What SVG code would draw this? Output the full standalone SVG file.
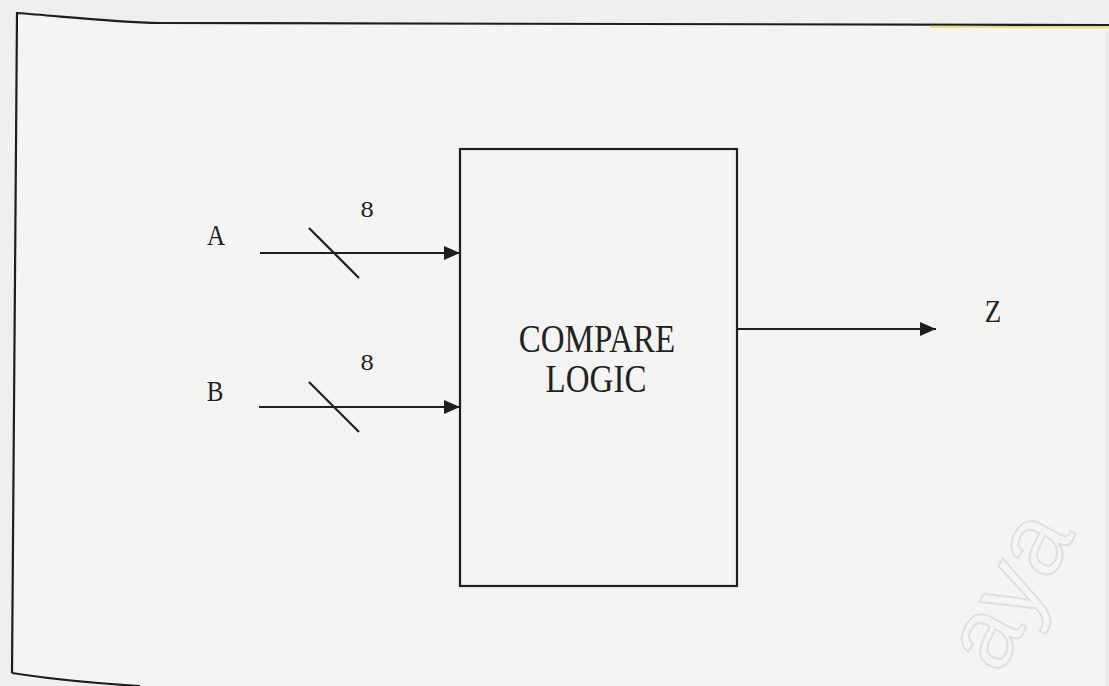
<svg xmlns="http://www.w3.org/2000/svg" width="1109" height="686" viewBox="0 0 1109 686">
  <defs>
    <marker id="arrow" viewBox="0 0 16 14" refX="16" refY="7" markerWidth="16" markerHeight="14" markerUnits="userSpaceOnUse" orient="auto">
      <path d="M0,0 L16,7 L0,14 Z" fill="#1b1f1f"/>
    </marker>
    <style>
      .ln { stroke: #1b1f1f; stroke-width: 2.2; fill: none; }
      .lbl { font-family: "Liberation Serif", "Times New Roman", serif; fill: #1f2222; }
      .wm { font-family: "Liberation Sans", Arial, sans-serif; font-size: 100px; fill: none; stroke: #dedede; stroke-width: 2; }
    </style>
  </defs>

  <!-- page background -->
  <rect x="0" y="0" width="1109" height="686" fill="#efefed"/>
  <path d="M17,13 C60,16 110,22 160,23 L1109,25 L1109,686 L130,686 C80,682 40,678 12,673 Z" fill="#f4f4f2"/>

  <!-- outer frame -->
  <g id="frame">
    <path class="ln" d="M12,673 L17,13 C60,16 110,22 160,23 L1109,25" stroke-width="2.6"/>
    <path class="ln" d="M12,673 C50,679 90,683 140,686" stroke-width="2.6"/>
    <line x1="930" y1="26.8" x2="1109" y2="27.2" stroke="#e4e070" stroke-width="2"/>
    <line x1="1107" y1="30" x2="1107" y2="686" stroke="#d8d8d8" stroke-width="1"/>
  </g>

  <!-- faint watermark -->
  <text class="wm" transform="translate(1000,676) rotate(-62)">aya</text>

  <!-- compare logic block -->
  <g id="compare-logic">
    <rect class="ln" x="460" y="149" width="277" height="437" fill="#f6f6f4"/>
    <text class="lbl" text-anchor="middle" font-size="33" transform="translate(597,352) scale(1,1.2)">COMPARE</text>
    <text class="lbl" text-anchor="middle" font-size="33" transform="translate(596,392) scale(1,1.2)">LOGIC</text>
  </g>

  <!-- port labels -->
  <g id="input-a">
    <text class="lbl" text-anchor="middle" font-size="25" transform="translate(216,245) scale(1,1.2)">A</text>
  </g>
  <g id="input-b">
    <text class="lbl" text-anchor="middle" font-size="25" transform="translate(215,401) scale(1,1.2)">B</text>
  </g>
  <g id="output-z">
    <text class="lbl" text-anchor="middle" font-size="27" transform="translate(993,322) scale(1,1.2)">Z</text>
  </g>

  <!-- connectors with bus-width marks -->
  <g id="connectors">
    <line class="ln" x1="260" y1="253" x2="460" y2="253" marker-end="url(#arrow)"/>
    <line class="ln" x1="309" y1="228" x2="359" y2="278"/>
    <text class="lbl" text-anchor="middle" font-size="23" transform="translate(367,217) scale(1.15,1)">8</text>

    <line class="ln" x1="259" y1="407" x2="460" y2="407" marker-end="url(#arrow)"/>
    <line class="ln" x1="309" y1="382" x2="359" y2="432"/>
    <text class="lbl" text-anchor="middle" font-size="23" transform="translate(367,370) scale(1.15,1)">8</text>

    <line class="ln" x1="737" y1="329" x2="936" y2="329" marker-end="url(#arrow)"/>
  </g>
</svg>
